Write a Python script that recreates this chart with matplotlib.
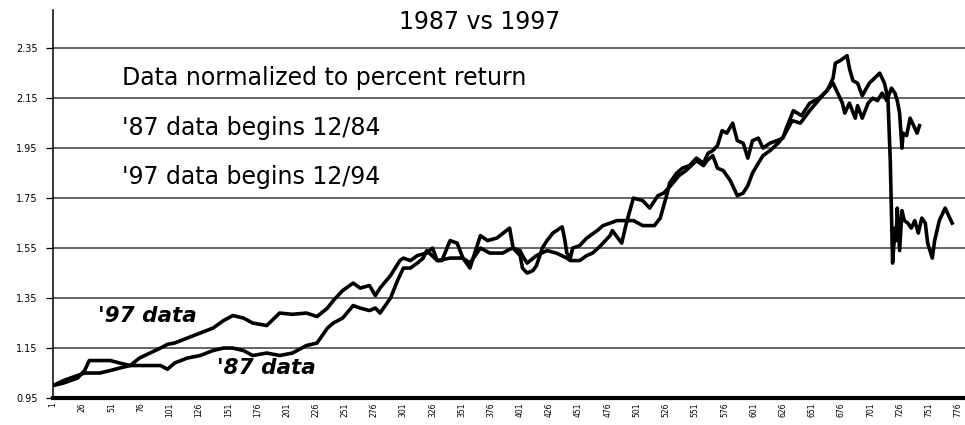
import numpy as np
import matplotlib
matplotlib.use("Agg")
import matplotlib.pyplot as plt

# trading day number and value normalized to the start, Dow 12/84 onwards
day87 = [1, 10, 22, 28, 32, 41, 50, 58, 67, 75, 84, 93, 99, 105, 116, 127, 138, 147, 155, 164,
         172, 184, 195, 206, 218, 227, 236, 241, 249, 258, 264, 272, 277, 281, 290, 296, 301, 307,
         313, 318, 321, 330, 334, 341, 347, 352, 358, 367, 373, 381, 392, 395, 401, 403, 407, 412,
         415, 420, 424, 429, 437, 439, 441, 444, 446, 452, 458, 467, 472, 484, 498, 506, 516, 521,
         527, 529, 535, 540, 546, 552, 558, 562, 566, 570, 574, 578, 583, 587, 592, 596, 600, 605,
         609, 615, 621, 626, 629, 635, 642, 649, 657, 664, 669, 671, 675, 681, 683, 686, 690, 694,
         700, 709, 713, 716, 718, 720, 722, 723, 724, 726, 728, 730, 733, 736, 739, 742, 745, 748,
         750, 754, 756, 760, 765, 767, 771]
val87 = [1.00, 1.01, 1.03, 1.06, 1.10, 1.10, 1.10, 1.09, 1.08, 1.08, 1.08, 1.08, 1.065, 1.09, 1.11,
         1.12, 1.14, 1.15, 1.15, 1.14, 1.12, 1.13, 1.12, 1.13, 1.16, 1.17, 1.23, 1.25, 1.27, 1.32,
         1.31, 1.30, 1.31, 1.29, 1.35, 1.42, 1.47, 1.47, 1.49, 1.51, 1.54, 1.50, 1.50, 1.58, 1.57,
         1.51, 1.47, 1.60, 1.58, 1.59, 1.63, 1.55, 1.52, 1.47, 1.45, 1.46, 1.48, 1.55, 1.58, 1.61,
         1.635, 1.59, 1.53, 1.51, 1.55, 1.56, 1.59, 1.62, 1.64, 1.66, 1.66, 1.64, 1.64, 1.67, 1.77,
         1.81, 1.85, 1.87, 1.88, 1.91, 1.89, 1.93, 1.94, 1.96, 2.02, 2.01, 2.05, 1.98, 1.97, 1.91,
         1.98, 1.99, 1.95, 1.97, 1.98, 1.99, 2.03, 2.10, 2.08, 2.13, 2.15, 2.18, 2.23, 2.29, 2.30,
         2.32, 2.27, 2.22, 2.21, 2.16, 2.21, 2.25, 2.21, 2.15, 1.90, 1.49, 1.63, 1.58, 1.71, 1.54,
         1.70, 1.66, 1.65, 1.63, 1.66, 1.61, 1.67, 1.65, 1.57, 1.51, 1.58, 1.66, 1.71, 1.69, 1.65]

# same thing for the Dow from 12/94
day97 = [1, 10, 22, 28, 34, 41, 50, 58, 67, 75, 84, 93, 99, 105, 116, 127, 138, 147, 155, 164,
         172, 184, 195, 206, 218, 227, 236, 241, 249, 258, 264, 272, 277, 281, 290, 298, 301, 307,
         313, 321, 326, 330, 341, 347, 352, 358, 367, 375, 386, 392, 395, 401, 403, 407, 415, 424,
         432, 441, 444, 452, 458, 463, 469, 478, 480, 488, 492, 498, 506, 512, 519, 524, 530, 537,
         543, 552, 558, 561, 566, 570, 575, 581, 585, 587, 592, 596, 600, 605, 609, 615, 622, 627,
         634, 641, 649, 658, 669, 673, 677, 679, 683, 688, 690, 694, 699, 703, 707, 711, 715, 719,
         722, 724, 726, 728, 729, 732, 735, 737, 741, 743]
val97 = [1.00, 1.02, 1.04, 1.05, 1.05, 1.05, 1.06, 1.07, 1.08, 1.11, 1.13, 1.15, 1.165, 1.17, 1.19,
         1.21, 1.23, 1.26, 1.28, 1.27, 1.25, 1.24, 1.29, 1.285, 1.29, 1.276, 1.31, 1.34, 1.38, 1.41,
         1.39, 1.40, 1.36, 1.39, 1.44, 1.50, 1.51, 1.50, 1.52, 1.53, 1.55, 1.50, 1.51, 1.51, 1.51,
         1.49, 1.55, 1.53, 1.53, 1.545, 1.55, 1.54, 1.52, 1.49, 1.52, 1.54, 1.53, 1.51, 1.50, 1.50,
         1.52, 1.53, 1.555, 1.60, 1.62, 1.57, 1.65, 1.75, 1.74, 1.71, 1.76, 1.77, 1.80, 1.84, 1.86,
         1.90, 1.88, 1.90, 1.92, 1.87, 1.86, 1.82, 1.78, 1.76, 1.77, 1.80, 1.85, 1.89, 1.92, 1.94,
         1.97, 2.00, 2.06, 2.05, 2.10, 2.15, 2.21, 2.17, 2.13, 2.09, 2.13, 2.07, 2.12, 2.07, 2.13,
         2.15, 2.14, 2.17, 2.14, 2.19, 2.17, 2.14, 2.09, 1.95, 2.01, 2.00, 2.07, 2.05, 2.01, 2.04]

yticks = [0.95, 1.15, 1.35, 1.55, 1.75, 1.95, 2.15, 2.35]
xticks = list(range(1, 777, 25))

fig = plt.figure(figsize=(9.65, 4.25), dpi=100)
ax = fig.add_axes([0.055, 0.0635, 0.945, 0.9125])

# gridlines first so the price lines sit on top
for y in yticks[1:]:
    ax.axhline(y, color="#3a3a3a", lw=1.1, zorder=1)

ax.plot(day87, val87, color="black", lw=2.6, zorder=3)
ax.plot(day97, val97, color="black", lw=2.6, zorder=3)

ax.set_xlim(1, 782)
ax.set_ylim(0.95, 2.502)
ax.set_yticks(yticks)
ax.set_yticklabels(["%.2f" % y for y in yticks], fontsize=7)
ax.set_xticks(xticks)
ax.set_xticklabels([str(x) for x in xticks], rotation=90, fontsize=5.5)
ax.tick_params(axis="y", length=5, width=0.9, pad=6)
ax.tick_params(axis="x", length=0, pad=3)

ax.spines["top"].set_visible(False)
ax.spines["right"].set_visible(False)
ax.spines["left"].set_linewidth(1.1)
ax.spines["bottom"].set_linewidth(3.0)

fig.text(0.497, 0.948, "1987 vs 1997", fontsize=17, ha="center", va="center")
fig.text(0.1264, 0.8165, "Data normalized to percent return", fontsize=17, ha="left", va="center")
fig.text(0.1264, 0.699, "'87 data begins 12/84", fontsize=17, ha="left", va="center")
fig.text(0.1264, 0.5835, "'97 data begins 12/94", fontsize=17, ha="left", va="center")

fig.text(0.1016, 0.2565, "'97 data", fontsize=15.5, fontweight="bold", fontstyle="italic",
         ha="left", va="center")
fig.text(0.2249, 0.134, "'87 data", fontsize=15.5, fontweight="bold", fontstyle="italic",
         ha="left", va="center")

fig.savefig("out.png", dpi=100)
